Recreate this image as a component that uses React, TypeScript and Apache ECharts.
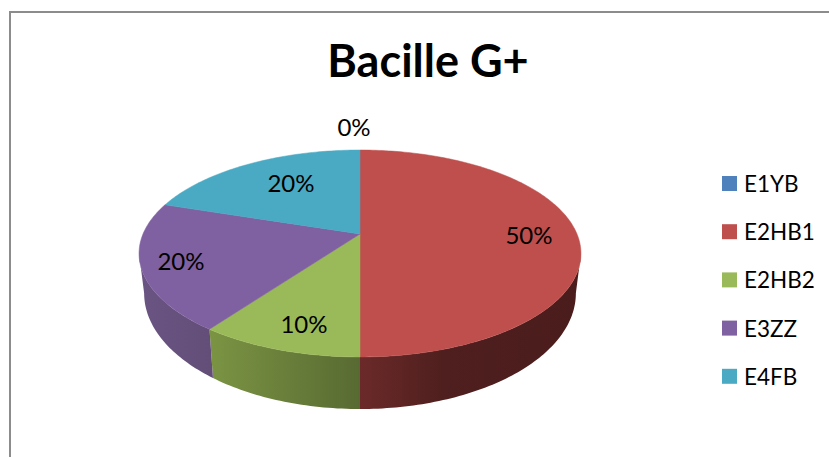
import React, { useEffect, useRef } from "react";
import * as echarts from "echarts";

const categories = ["E1YB", "E2HB1", "E2HB2", "E3ZZ", "E4FB"];
const shares = [0, 50, 10, 20, 20];
const topColors = ["#4F81BD", "#BE4F4D", "#9ABA59", "#7F60A0", "#4AA9C3"];
const sideStops: [number, string][][] = [
  [[0, "#3c618e"], [1, "#2a4463"]],
  [[0, "#6B2A29"], [0.38, "#4E1F1E"], [1, "#4A1C1B"]],
  [[0, "#7B9443"], [1, "#586A32"]],
  [[0, "#6A5483"], [1, "#634E78"]],
  [[0, "#38808f"], [1, "#2a6070"]],
];
const labelAnchors: [number, number][] = [
  [354, 126],
  [529, 234],
  [304, 323],
  [181, 260],
  [291, 182],
];

// Perspective disc: apex, half sizes and the foreshortening factor of the tilt.
const APEX_X = 360;
const TOP_Y = 234;
const HALF_W = 217;
const HALF_H = 99.8;
const TILT = 0.1884;
const FLOOR_Y = 271.4;
const FLOOR_W = 212;
const FLOOR_H = 111.7;
const FONT = "Lato, Carlito, sans-serif";

// Where the rim is widest on screen: the wall's visible edge on either side.
const WALL_START = Math.acos(-TILT) / (Math.PI * 2);
const WALL_END = 1 - WALL_START;

function rim(turn: number, y0: number, w: number, h: number): number[] {
  const a = turn * Math.PI * 2;
  const X = Math.sin(a);
  const Y = -Math.cos(a);
  const d = 1 - TILT * Y;
  return [APEX_X + (w * X) / d, y0 + (h * Y) / d];
}

function arcPoints(from: number, to: number, y0: number, w: number, h: number) {
  const steps = Math.max(1, Math.ceil((to - from) * 360));
  const pts: number[][] = [];
  for (let i = 0; i <= steps; i++) {
    pts.push(rim(from + ((to - from) * i) / steps, y0, w, h));
  }
  return pts;
}

function sliceRenderer(index: number) {
  return (_params: unknown, api: any) => {
    const start = api.value(0) / 100;
    const share = api.value(1) / 100;
    const end = start + share;
    const children: any[] = [];
    const wallFrom = Math.max(start, WALL_START);
    const wallTo = Math.min(end, WALL_END);
    if (wallTo > wallFrom) {
      const upper = arcPoints(wallFrom, wallTo, TOP_Y, HALF_W, HALF_H);
      const lower = arcPoints(wallFrom, wallTo, FLOOR_Y, FLOOR_W, FLOOR_H).reverse();
      const colorStops = sideStops[index].map(([offset, color]) => ({ offset, color }));
      children.push({
        type: "polygon",
        shape: { points: upper.concat(lower) },
        style: {
          fill: new echarts.graphic.LinearGradient(0, 0, 1, 0, colorStops),
        },
      });
    }
    if (share > 0) {
      children.push({
        type: "polygon",
        shape: {
          points: [[APEX_X, TOP_Y], ...arcPoints(start, end, TOP_Y, HALF_W, HALF_H)],
        },
        style: { fill: topColors[index], stroke: topColors[index], lineWidth: 0.5 },
      });
    }
    children.push({
      type: "text",
      z2: 10,
      style: {
        x: labelAnchors[index][0],
        y: labelAnchors[index][1],
        text: `${api.value(1)}%`,
        fill: "#000",
        fontFamily: FONT,
        fontSize: 24,
        align: "center",
        verticalAlign: "middle",
      },
    });
    return { type: "group", children };
  };
}

export default function App() {
  const ref = useRef<HTMLDivElement>(null);
  useEffect(() => {
    document.body.style.margin = "0";
    const chart = echarts.init(ref.current!, undefined, { renderer: "svg" });
    let running = 0;
    const series = categories.map((name, i) => {
      const start = running;
      running += shares[i];
      return {
        type: "custom",
        name,
        coordinateSystem: "none",
        itemStyle: { color: topColors[i] },
        data: [[start, shares[i]]],
        renderItem: sliceRenderer(i),
        silent: true,
      };
    });
    chart.setOption({
      animation: false,
      backgroundColor: "#fff",
      title: {
        text: "Bacille G+",
        left: 423,
        top: 32,
        textAlign: "center",
        textStyle: { fontFamily: FONT, fontSize: 45, fontWeight: "bold", color: "#000" },
      },
      legend: {
        orient: "vertical",
        left: 717,
        top: 167,
        itemWidth: 15,
        itemHeight: 15,
        itemGap: 25.2,
        icon: "rect",
        data: categories,
        textStyle: { fontFamily: FONT, fontSize: 22.5, color: "#000", padding: [0, 0, 0, 2] },
      },
      graphic: [
        {
          type: "polyline",
          shape: { points: [[10, 457], [10, 12], [829, 12]] },
          style: { stroke: "#8c8c8c", lineWidth: 2, fill: "none" },
        },
      ],
      series,
    });
    return () => chart.dispose();
  }, []);
  return <div ref={ref} style={{ width: 829, height: 457 }} />;
}
